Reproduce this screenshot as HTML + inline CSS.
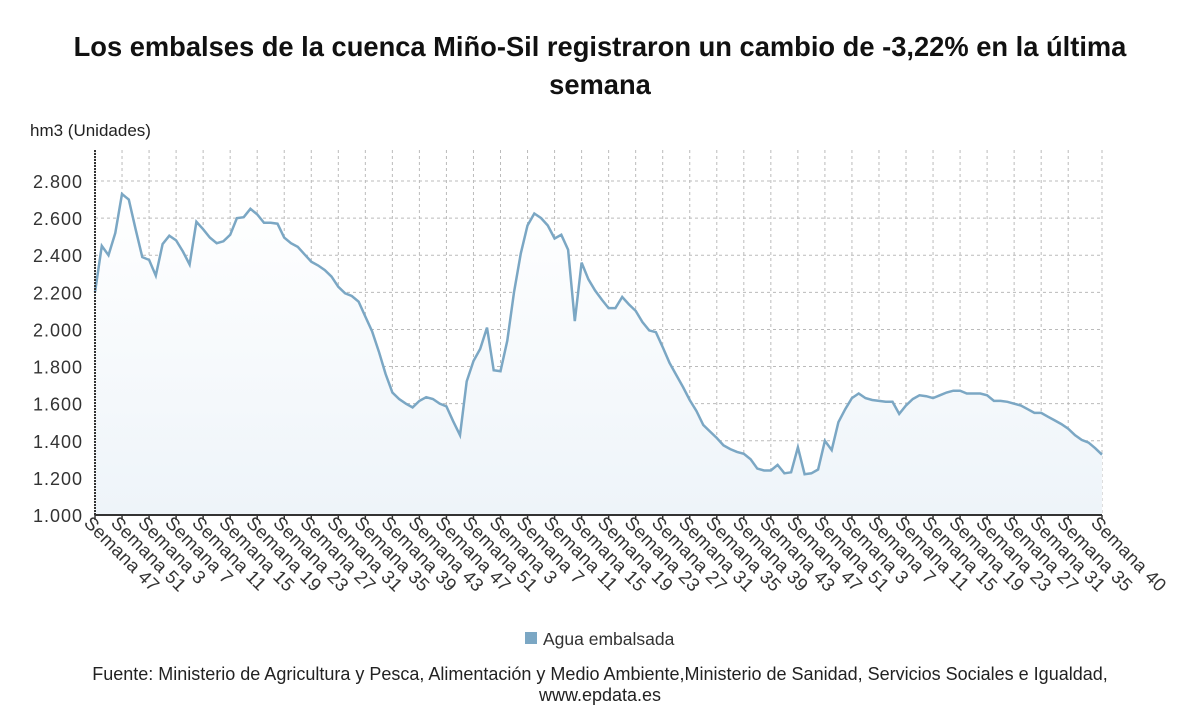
<!DOCTYPE html>
<html><head><meta charset="utf-8"><style>
body{margin:0;background:#fff;width:1200px;height:705px;overflow:hidden;font-family:"Liberation Sans",sans-serif}
</style></head><body>
<svg width="1200" height="705" xmlns="http://www.w3.org/2000/svg">
<defs><linearGradient id="fg" x1="0" y1="0" x2="0" y2="1"><stop offset="0" stop-color="#ffffff"/><stop offset="1" stop-color="#eef4f9"/></linearGradient></defs>
<text x="600" y="56" text-anchor="middle" font-size="27.3" font-weight="bold" fill="#111">Los embalses de la cuenca Miño-Sil registraron un cambio de -3,22% en la última</text>
<text x="600" y="94" text-anchor="middle" font-size="27.3" font-weight="bold" fill="#111">semana</text>
<text x="30" y="136" font-size="17" fill="#222">hm3 (Unidades)</text>
<g id="grid"></g>
<path id="area" fill="url(#fg)"/>
<path id="line" fill="none" stroke="#7ba7c4" stroke-width="2.5"/>
<g id="axes"></g>
<rect x="525" y="632" width="12" height="12" fill="#7ba7c4"/>
<text x="543" y="645" font-size="17.5" fill="#333">Agua embalsada</text>
<text x="600" y="680" text-anchor="middle" font-size="18" fill="#222">Fuente: Ministerio de Agricultura y Pesca, Alimentación y Medio Ambiente,Ministerio de Sanidad, Servicios Sociales e Igualdad,</text>
<text x="600" y="701" text-anchor="middle" font-size="18" fill="#222">www.epdata.es</text>
</svg>
<script>
const values=[2200,2450,2400,2520,2730,2700,2540,2390,2375,2290,2460,2505,2480,2420,2350,2580,2540,2495,2465,2475,2510,2600,2605,2650,2620,2575,2575,2570,2495,2465,2445,2405,2365,2345,2320,2285,2230,2195,2180,2150,2070,1990,1880,1760,1660,1625,1600,1580,1615,1635,1625,1600,1585,1505,1430,1720,1830,1895,2010,1780,1775,1940,2200,2410,2560,2625,2600,2560,2490,2510,2430,2045,2360,2270,2210,2160,2115,2115,2175,2135,2100,2040,1995,1985,1905,1820,1755,1690,1620,1560,1485,1450,1415,1375,1355,1340,1330,1300,1250,1240,1240,1270,1225,1230,1365,1220,1225,1245,1400,1350,1500,1570,1630,1655,1630,1620,1615,1610,1610,1545,1590,1625,1645,1640,1630,1645,1660,1670,1670,1655,1655,1655,1645,1615,1615,1610,1600,1590,1570,1550,1550,1530,1510,1490,1465,1430,1405,1390,1360,1325];
const xLabels=["Semana 47","Semana 51","Semana 3","Semana 7","Semana 11","Semana 15","Semana 19","Semana 23","Semana 27","Semana 31","Semana 35","Semana 39","Semana 43","Semana 47","Semana 51","Semana 3","Semana 7","Semana 11","Semana 15","Semana 19","Semana 23","Semana 27","Semana 31","Semana 35","Semana 39","Semana 43","Semana 47","Semana 51","Semana 3","Semana 7","Semana 11","Semana 15","Semana 19","Semana 23","Semana 27","Semana 31","Semana 35","Semana 40"];
const yTicks=[1000,1200,1400,1600,1800,2000,2200,2400,2600,2800];
const X0=95,X1=1102,Y0=515,Y1=181;
const n=values.length;
const xs=i=>X0+i*(X1-X0)/(n-1);
const ys=v=>Y0-(v-1000)*(Y0-Y1)/1800;
const NS="http://www.w3.org/2000/svg";
const grid=document.getElementById('grid'),axes=document.getElementById('axes');
function mk(tag,attrs,parent){const e=document.createElementNS(NS,tag);for(const k in attrs)e.setAttribute(k,attrs[k]);parent.appendChild(e);return e;}
const tickIdx=xLabels.map((l,k)=>k<xLabels.length-1?k*4:n-1);
for(const v of yTicks){
  const y=ys(v);
  const g=mk('line',{x1:X0,x2:X1,y1:y,y2:y,stroke:'#bbb','stroke-dasharray':'3,3'},grid);
  
  
  const t=mk('text',{x:83,y:y+7,'text-anchor':'end','font-size':'18','letter-spacing':'1',fill:'#333'},axes);
  t.textContent=v.toLocaleString('de-DE');
  
  
}
mk('line',{x1:X1,x2:X1,y1:150,y2:Y0,stroke:'#bbb','stroke-dasharray':'3,3'},grid);
tickIdx.forEach((idx,k)=>{
  const x=xs(idx);
  const g=mk('line',{x1:x,x2:x,y1:150,y2:Y0,stroke:'#bbb','stroke-dasharray':'3,3'},grid);
  
  
  mk('line',{x1:x,x2:x,y1:Y0,y2:Y0+5,stroke:'#333','stroke-width':1.5},axes);
  const t=mk('text',{x:0,y:0,'font-size':'18.5','letter-spacing':'0.3',fill:'#333',transform:`translate(${x-12},${Y0+9}) rotate(45)`},axes);
  t.textContent=xLabels[k];
  
  
});
const ax=mk('line',{x1:X0,x2:X1,y1:Y0,y2:Y0,stroke:'#333','stroke-width':2},axes);


const ay=mk('line',{x1:X0,x2:X0,y1:150,y2:Y0,stroke:'#333','stroke-width':2,'stroke-dasharray':'2,1'},axes);


let d=values.map((v,i)=>(i?'L':'M')+xs(i).toFixed(1)+','+ys(v).toFixed(1)).join('');
document.getElementById('line').setAttribute('d',d);
document.getElementById('area').setAttribute('d',d+`L${X1},${Y0}L${X0},${Y0}Z`);
</script>
</body></html>
